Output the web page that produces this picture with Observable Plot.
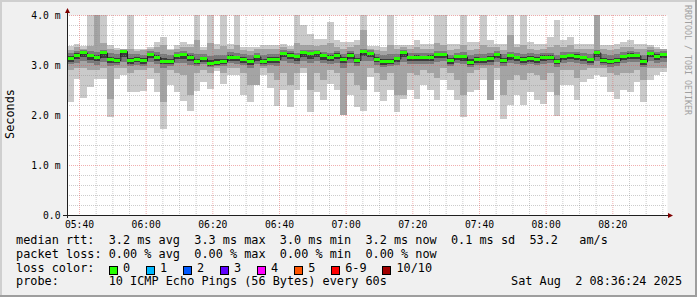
<!DOCTYPE html>
<html><head><meta charset="utf-8">
<script src="https://cdn.jsdelivr.net/npm/d3@7"></script>
<script src="https://cdn.jsdelivr.net/npm/@observablehq/plot@0.6"></script>
<style>
html,body{margin:0;padding:0;background:#f0f0f0}
#chart{position:relative;width:697px;height:297px;background:#f0f0f0;overflow:hidden;
  box-shadow: inset -2px -2px 0 #9e9e9e, inset 2px 2px 0 #cfcfcf;
  font-family:"DejaVu Sans Mono",monospace;color:#000}
#chart svg{position:absolute;left:0;top:0;background:transparent}
.ln{position:absolute;left:16px;font-size:11.85px;line-height:13.8px;white-space:pre}
.box{position:absolute;width:7px;height:7px;border:1px solid #000}
.lab{position:absolute;font-size:11.85px;line-height:13.8px;white-space:pre}
#ylab{position:absolute;left:11px;top:114px;font-size:11.85px;line-height:13.8px;white-space:pre;transform:translate(-50%,-50%) rotate(-90deg)}
#wm{position:absolute;left:683px;top:5px;font-size:8.3px;line-height:9px;writing-mode:vertical-rl;color:#a0a0a0;white-space:pre}
</style></head>
<body><div id="chart"></div>
<script>
// ---- data (ms), 2-minute steps from 05:36:24 ----
const med = [3.13,3.20,3.25,3.19,3.15,3.25,3.11,3.10,3.28,3.09,
3.12,3.09,3.22,3.16,3.08,3.07,3.20,3.22,3.16,3.08,
3.13,3.04,3.06,3.07,3.16,3.15,3.12,3.07,3.17,3.08,
3.12,3.12,3.24,3.20,3.17,3.25,3.23,3.25,3.19,3.16,
3.20,3.12,3.20,3.10,3.27,3.24,3.12,3.07,3.08,3.13,
3.25,3.15,3.16,3.15,3.16,3.22,3.22,3.09,3.17,3.17,
3.06,3.12,3.11,3.14,3.22,3.10,3.19,3.15,3.12,3.14,
3.12,3.16,3.16,3.08,3.17,3.19,3.18,3.15,3.11,3.25,
3.10,3.08,3.10,3.17,3.20,3.19,3.07,3.24,3.18,3.22];
const pingMax = [3.39,3.43,3.39,4.0,4.0,4.0,3.40,3.35,3.33,4.0,
3.33,3.33,3.37,3.47,3.56,3.33,3.40,3.47,3.43,4.0,
3.37,4.0,3.43,4.0,3.43,4.0,3.36,3.36,3.36,3.40,
3.40,3.40,3.43,3.38,4.0,3.80,3.63,3.53,3.53,3.86,
3.50,3.46,3.46,3.50,4.0,3.39,3.39,3.36,4.0,3.40,
3.40,3.40,3.50,3.43,3.43,4.0,4.0,3.43,3.43,4.0,
3.46,3.46,4.0,3.50,3.43,3.43,4.0,3.43,4.0,3.46,
3.43,3.43,3.56,3.90,3.50,3.56,3.43,3.43,3.43,4.0,
3.40,3.40,3.43,3.46,3.50,3.43,3.43,3.40,3.36,3.33];
const pingMin = [2.26,2.73,2.35,2.56,2.73,2.73,1.96,2.73,2.80,2.46,
2.46,2.49,2.73,2.46,1.73,2.60,2.46,2.29,2.09,2.49,
2.66,2.53,2.89,2.63,2.80,2.80,2.40,2.26,2.60,2.80,
2.55,2.19,2.50,2.16,2.50,2.85,2.06,2.47,2.30,2.63,
2.50,2.00,2.40,2.16,2.09,2.76,2.46,2.29,2.50,2.06,
2.33,2.50,2.33,2.60,2.50,2.30,2.70,2.50,2.30,1.96,
2.47,2.50,2.70,2.30,2.70,1.93,2.20,2.40,2.20,2.46,
2.30,2.23,2.46,1.99,2.60,2.60,2.30,2.66,2.73,2.80,
2.76,2.46,2.33,2.50,2.46,2.66,2.26,2.70,2.80,2.86];
const hi2 = [3.30,3.36,3.33,3.38,4.0,3.45,3.33,3.30,3.32,3.33,
3.28,3.30,3.33,3.36,3.40,3.30,3.33,3.36,3.36,3.50,
3.30,3.45,3.33,3.38,3.33,3.40,3.30,3.28,3.32,3.33,
3.33,3.33,3.36,3.33,3.45,3.40,3.40,3.38,3.40,3.45,
3.36,3.33,3.36,3.40,3.70,3.33,3.30,3.28,3.40,3.33,
3.36,3.33,3.36,3.33,3.33,3.45,3.40,3.30,3.33,3.40,
3.30,3.33,3.40,3.36,3.36,3.30,3.60,3.36,3.40,3.33,
3.30,3.33,3.36,3.40,3.36,3.40,3.33,3.33,3.33,4.0,
3.33,3.30,3.33,3.36,3.36,3.33,3.33,3.36,3.33,3.33];
const lo2 = [2.90,2.95,2.95,2.90,2.90,2.95,2.33,2.95,2.95,2.85,
2.90,2.90,2.95,2.85,2.26,2.90,2.85,2.80,2.40,2.85,
2.90,2.85,2.95,2.85,2.95,2.95,2.85,2.60,2.60,2.95,
2.85,2.70,2.85,2.60,2.85,2.95,2.50,2.85,2.70,2.90,
2.85,2.00,2.85,2.60,2.50,2.95,2.85,2.70,2.85,2.40,
2.40,2.85,2.80,2.90,2.85,2.75,2.95,2.85,2.70,2.40,
2.85,2.90,2.95,2.30,2.95,2.40,2.70,2.80,2.70,2.85,
2.80,2.70,2.85,2.40,2.90,2.90,2.75,2.90,2.95,2.95,
2.95,2.85,2.80,2.85,2.85,2.90,2.70,2.95,2.95,2.95];
const hi3 = [3.24,3.28,3.30,3.28,3.27,3.30,3.24,3.22,3.30,3.22,
3.22,3.20,3.28,3.26,3.22,3.20,3.27,3.28,3.25,3.22,
3.22,3.18,3.20,3.20,3.26,3.25,3.22,3.20,3.25,3.20,
3.22,3.22,3.30,3.28,3.25,3.30,3.30,3.30,3.27,3.25,
3.28,3.22,3.28,3.22,3.32,3.30,3.22,3.20,3.22,3.22,
3.30,3.25,3.25,3.25,3.25,3.28,3.28,3.20,3.25,3.26,
3.20,3.22,3.22,3.24,3.28,3.22,3.27,3.25,3.22,3.24,
3.22,3.25,3.25,3.20,3.26,3.27,3.26,3.25,3.22,3.30,
3.22,3.20,3.22,3.26,3.28,3.27,3.20,3.30,3.26,3.28];
const lo3 = [3.02,3.05,3.08,3.04,3.00,3.06,2.98,3.00,3.06,2.98,
3.00,2.98,3.06,3.02,2.95,2.98,3.05,3.05,3.00,2.98,
3.02,2.96,2.98,2.98,3.04,3.02,3.00,2.95,3.02,2.98,
3.00,2.98,3.08,3.04,3.02,3.08,3.04,3.08,3.04,3.02,
3.05,2.95,3.04,2.98,3.08,3.08,3.00,2.96,2.98,3.00,
3.06,3.02,3.02,3.02,3.03,3.06,3.08,2.98,3.04,3.02,
2.96,3.00,3.00,3.00,3.06,2.98,3.04,3.02,3.00,3.02,
3.00,3.02,3.04,2.96,3.05,3.06,3.04,3.03,3.00,3.08,
3.00,2.97,2.98,3.04,3.06,3.06,2.96,3.08,3.05,3.06];
const hi4 = [3.18,3.24,3.27,3.23,3.21,3.27,3.17,3.15,3.28,3.14,
3.16,3.14,3.25,3.20,3.14,3.12,3.23,3.25,3.20,3.13,
3.17,3.10,3.12,3.12,3.20,3.19,3.16,3.12,3.21,3.13,
3.16,3.16,3.27,3.24,3.21,3.28,3.26,3.27,3.23,3.20,
3.24,3.16,3.24,3.15,3.29,3.27,3.16,3.12,3.13,3.17,
3.27,3.19,3.20,3.19,3.20,3.25,3.25,3.14,3.21,3.21,
3.12,3.16,3.15,3.18,3.25,3.15,3.23,3.19,3.16,3.18,
3.16,3.20,3.20,3.13,3.21,3.23,3.22,3.19,3.15,3.27,
3.15,3.13,3.15,3.21,3.24,3.23,3.12,3.26,3.22,3.25];
const lo4 = [3.07,3.12,3.16,3.11,3.08,3.15,3.04,3.05,3.16,3.03,
3.06,3.03,3.14,3.09,3.02,3.02,3.12,3.13,3.08,3.03,
3.07,2.99,3.01,3.02,3.09,3.08,3.05,3.01,3.09,3.02,
3.05,3.05,3.16,3.12,3.09,3.16,3.13,3.16,3.11,3.09,
3.12,3.05,3.12,3.04,3.18,3.16,3.06,3.01,3.02,3.06,
3.16,3.08,3.09,3.08,3.09,3.14,3.15,3.03,3.10,3.09,
3.01,3.05,3.05,3.07,3.14,3.04,3.11,3.08,3.05,3.07,
3.05,3.09,3.10,3.02,3.10,3.12,3.11,3.08,3.05,3.16,
3.04,3.02,3.04,3.10,3.13,3.12,3.01,3.16,3.11,3.14];

const yTickValues = [0, 1, 2, 3, 4];
const yTickLabels = ["0.0", "1.0 m", "2.0 m", "3.0 m", "4.0 m"];
const statNames = ["avg", "max", "min", "now"];
const rttStats = [3.2, 3.3, 3.0, 3.2];
const rttSd = 0.1;
const rttAmS = 53.2;
const lossStats = [0.00, 0.00, 0.00, 0.00];
const lossLabels = ["0", "1", "2", "3", "4", "5", "6-9", "10/10"];
const lossColors = ["#26ff00", "#00b8ff", "#0059ff", "#5e00ff", "#ff00fe", "#ff5500", "#ff0000", "#a10000"];
const probeText = "10 ICMP Echo Pings (56 Bytes) every 60s";
const dateText = "Sat Aug  2 08:36:24 2025";

// ---- build ----
const t0 = new Date(2025, 7, 2, 5, 36, 24);
const stepMs = 120000;
const tEnd = new Date(+t0 + med.length * stepMs);
const rows = med.map((m, i) => ({
  t1: new Date(+t0 + i * stepMs), t2: new Date(+t0 + (i + 1) * stepMs),
  med: m, min: pingMin[i], max: pingMax[i], lo2: lo2[i], hi2: hi2[i],
  lo3: lo3[i], hi3: hi3[i], lo4: lo4[i], hi4: hi4[i]
}));

const yMinor = d3.range(1, 20).map(i => i / 5).filter(v => Math.abs(v - Math.round(v)) > 1e-6);
const xMajor = d3.timeMinute.every(20).range(t0, tEnd);
const xMinor = d3.timeMinute.every(5).range(t0, tEnd).filter(d => d.getMinutes() % 20 !== 0);

const gridMinor = {stroke: "#8f8f8f", strokeOpacity: 0.46, strokeDasharray: "1,1", strokeWidth: 1};
const gridMajor = {stroke: "#de5050", strokeOpacity: 0.46, strokeDasharray: "1,1", strokeWidth: 1};
const rectOpts = {x1: "t1", x2: "t2", shapeRendering: "crispEdges"};

const plot = Plot.plot({
  width: 697, height: 232,
  marginLeft: 67, marginRight: 30, marginTop: 15, marginBottom: 17,
  style: {fontFamily: "DejaVu Sans Mono", fontSize: "9.7px", background: "transparent", overflow: "visible"},
  x: {type: "time", domain: [t0, tEnd]},
  y: {domain: [0, 4]},
  marks: [
    Plot.frame({fill: "white", stroke: "none"}),
    Plot.rect(rows, {...rectOpts, y1: "min", y2: "max", fill: "#cacaca"}),
    Plot.rect(rows, {...rectOpts, y1: "lo2", y2: "hi2", fill: "#a4a4a4"}),
    Plot.rect(rows, {...rectOpts, y1: "lo3", y2: "hi3", fill: "#7a7a7a"}),
    Plot.rect(rows, {...rectOpts, y1: "lo4", y2: "hi4", fill: "#3c3c3c"}),
    Plot.gridY(yMinor, gridMinor),
    Plot.gridX(xMinor, gridMinor),
    Plot.gridY(yTickValues, gridMajor),
    Plot.gridX(xMajor, gridMajor),
    Plot.line(rows, {x: "t1", y: "med", curve: "step-after", stroke: "#202020", strokeWidth: 1}),
    Plot.rect(rows, {...rectOpts, y1: d => d.med - 0.03, y2: d => d.med + 0.03, fill: lossColors[0]}),
    Plot.axisY(yTickValues, {tickSize: 0, tickPadding: 7, label: null,
      tickFormat: v => yTickLabels[yTickValues.indexOf(v)]}),
    Plot.axisX(xMajor, {tickSize: 0, tickPadding: 6, label: null, tickFormat: d3.timeFormat("%H:%M")})
  ]
});

// axis lines + arrows drawn with the plot's own scales
const sx = plot.scale("x"), sy = plot.scale("y");
const X0 = Math.round(sx.apply(t0)), X1 = sx.apply(tEnd);
const Y0 = Math.round(sy.apply(0)), Y1 = sy.apply(4);
const g = d3.select(plot).append("g").attr("shape-rendering", "crispEdges");
g.append("line").attr("x1", X0 - 4).attr("x2", X1 + 2).attr("y1", Y0 + 0.5).attr("y2", Y0 + 0.5).attr("stroke", "#1f1f1f");
g.append("line").attr("x1", X0 + 0.5).attr("x2", X0 + 0.5).attr("y1", Y0 + 3).attr("y2", Y1 - 3).attr("stroke", "#1f1f1f");
const ga = d3.select(plot).append("g").attr("fill", "#7f0000");
ga.append("path").attr("d", `M${X0 - 2}.0,${Y1 - 2} L${X0 + 3},${Y1 - 2} L${X0 + 0.5},${Y1 - 7} Z`);
ga.append("path").attr("d", `M${X1 + 1},${Y0 - 2} L${X1 + 1},${Y0 + 3} L${X1 + 6},${Y0 + 0.5} Z`);

const chart = document.getElementById("chart");
chart.appendChild(plot);

// y label & watermark
const yl = document.createElement("div"); yl.id = "ylab"; yl.textContent = "Seconds"; chart.appendChild(yl);
const wm = document.createElement("div"); wm.id = "wm"; wm.textContent = "RRDTOOL / TOBI OETIKER"; chart.appendChild(wm);

// legend lines
function addLine(text, top) {
  const d = document.createElement("div"); d.className = "ln"; d.style.top = top + "px"; d.textContent = text; chart.appendChild(d);
}
addLine("median rtt:  " + rttStats.map((v, i) => v.toFixed(1) + " ms " + statNames[i]).join("  ")
  + "  " + rttSd.toFixed(1) + " ms sd  " + rttAmS.toFixed(1) + "   am/s", 234);
addLine("packet loss: " + lossStats.map((v, i) => v.toFixed(2) + " % " + statNames[i]).join("  "), 247.5);
addLine("loss color:", 261.5);
addLine("probe:       " + probeText, 275);
const dt = document.createElement("div"); dt.className = "lab"; dt.style.left = "511px"; dt.style.top = "275px";
dt.textContent = dateText; chart.appendChild(dt);

const cw = 7.13;
let lx = 16 + 13 * cw;
lossLabels.forEach((lab, i) => {
  const b = document.createElement("div"); b.className = "box";
  b.style.left = lx + "px"; b.style.top = "265.5px"; b.style.background = lossColors[i];
  chart.appendChild(b);
  const t = document.createElement("div"); t.className = "lab";
  t.style.left = (lx + 14.3) + "px"; t.style.top = "261.5px"; t.textContent = lab;
  chart.appendChild(t);
  lx += 29.9 + cw * lab.length;
});
</script></body></html>
